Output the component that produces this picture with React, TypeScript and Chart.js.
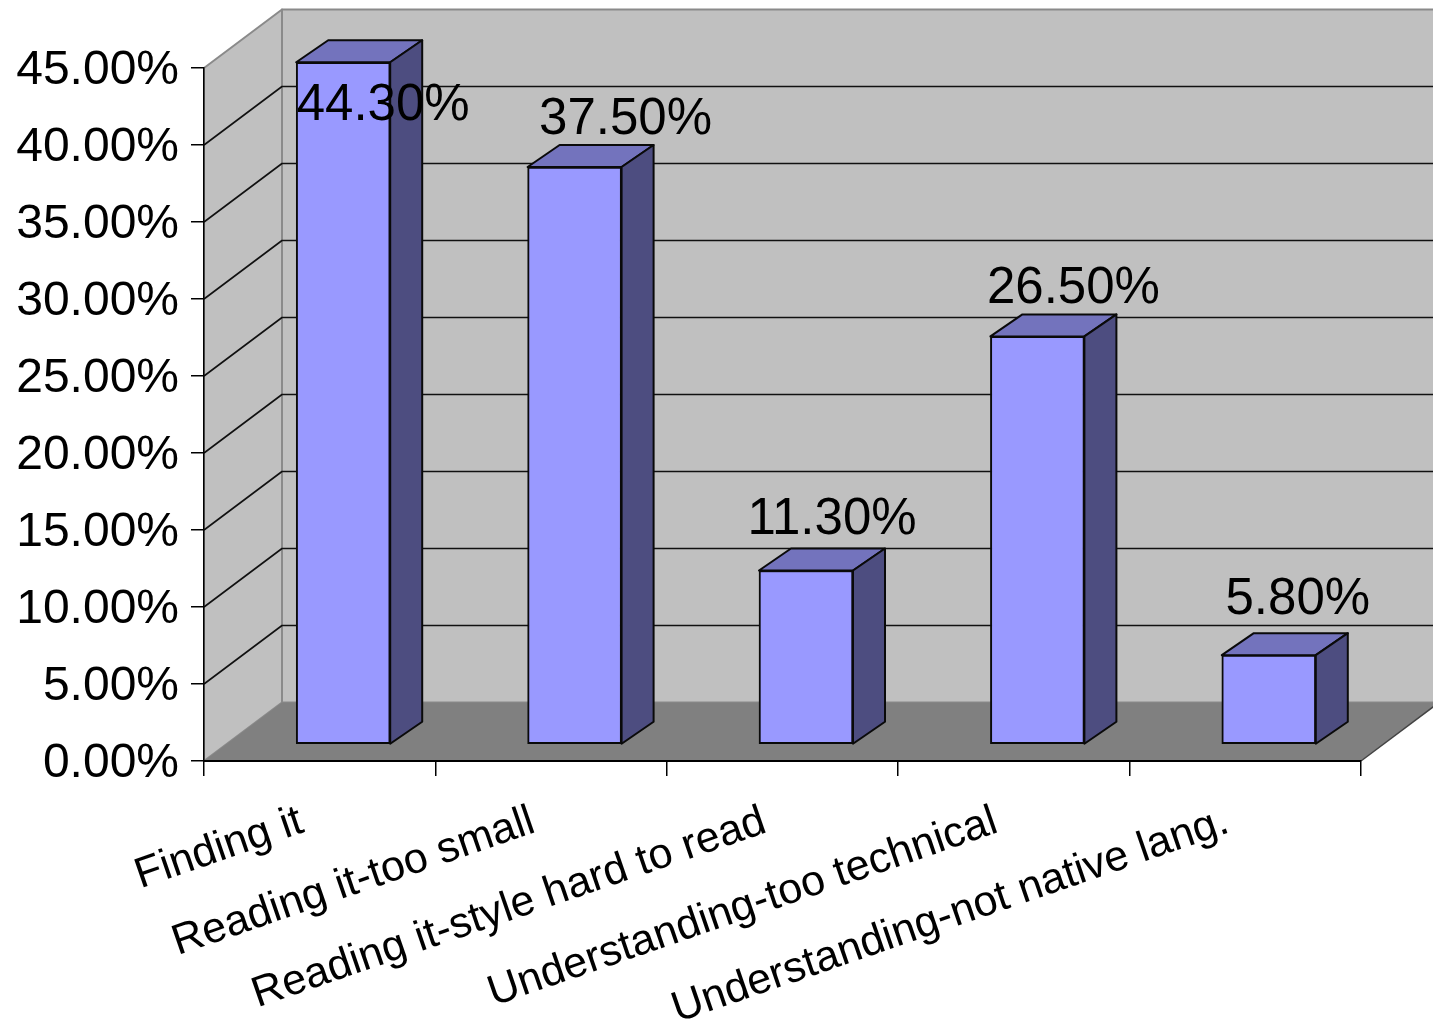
import React, { useEffect, useRef } from "react";
import { Chart, registerables } from "chart.js";

Chart.register(...registerables);

const categories = [
  "Finding it",
  "Reading it-too small",
  "Reading it-style hard to read",
  "Understanding-too technical",
  "Understanding-not native lang.",
];
const percentValues = [44.3, 37.5, 11.3, 26.5, 5.8];

// Horizontal and vertical nudges of each value label, relative to the bar's top centre.
const labelNudgeX = [40, 51, 26, 36, 29];
const labelNudgeY = [44, -47, -51, -47, -55];

const FONT = '"Liberation Sans", Arial, sans-serif';
const WALL = "#c0c0c0";
const FLOOR = "#808080";
const EDGE = "#8a8a8a";
const FRONT = "#9999ff";
const TOP = "#7373bd";
const SIDE = "#4d4d80";
const INK = "#0a0a0a";

// Perspective offsets of the box and of each bar.
const BOX_DX = 78;
const BOX_DY = -58.5;
const BAR_SHIFT_X = 23.5;
const BAR_SHIFT_Y = -16.5;
const BAR_DX = 32;
const BAR_DY = -22;

function poly(ctx: CanvasRenderingContext2D, pts: number[][], fill: string | null, stroke: string | null, lw = 2) {
  ctx.beginPath();
  pts.forEach(([x, y], i) => (i ? ctx.lineTo(x, y) : ctx.moveTo(x, y)));
  ctx.closePath();
  if (fill) {
    ctx.fillStyle = fill;
    ctx.fill();
  }
  if (stroke) {
    ctx.strokeStyle = stroke;
    ctx.lineWidth = lw;
    ctx.lineJoin = "round";
    ctx.stroke();
  }
}

const box3d = {
  id: "box3d",
  beforeDraw(chart: any) {
    const { ctx, chartArea: a, scales } = chart;
    const y = scales.y;
    const far = a.right + BOX_DX;
    ctx.save();
    // Back wall, side wall and floor of the plot box
    poly(ctx, [[a.left + BOX_DX, a.top + BOX_DY], [far, a.top + BOX_DY], [far, a.bottom + BOX_DY], [a.left + BOX_DX, a.bottom + BOX_DY]], WALL, EDGE);
    poly(ctx, [[a.left, a.top], [a.left + BOX_DX, a.top + BOX_DY], [a.left + BOX_DX, a.bottom + BOX_DY], [a.left, a.bottom]], WALL, EDGE);
    poly(ctx, [[a.left, a.bottom], [a.left + BOX_DX, a.bottom + BOX_DY], [far, a.bottom + BOX_DY], [a.right, a.bottom]], FLOOR, null);
    ctx.strokeStyle = "#444";
    ctx.lineWidth = 1.5;
    ctx.beginPath();
    ctx.moveTo(a.right, a.bottom);
    ctx.lineTo(far, a.bottom + BOX_DY);
    ctx.stroke();
    // Gridlines running up the side wall and across the back wall
    ctx.strokeStyle = "#111";
    ctx.lineWidth = 1.6;
    y.ticks.forEach((t: any) => {
      if (t.value <= 0 || t.value >= 45) return;
      const py = y.getPixelForValue(t.value);
      ctx.beginPath();
      ctx.moveTo(a.left, py);
      ctx.lineTo(a.left + BOX_DX, py + BOX_DY);
      ctx.lineTo(far, py + BOX_DY);
      ctx.stroke();
    });
    ctx.restore();
  },
  beforeDatasetDraw(chart: any, args: any) {
    const { ctx } = chart;
    ctx.save();
    ctx.translate(BAR_SHIFT_X, BAR_SHIFT_Y);
    // Top and side faces sit behind the front face the bar element paints
    args.meta.data.forEach((el: any) => {
      const { x, y, base, width } = el.getProps(["x", "y", "base", "width"], true);
      const l = x - width / 2;
      const r = x + width / 2;
      poly(ctx, [[l, y], [l + BAR_DX, y + BAR_DY], [r + BAR_DX, y + BAR_DY], [r, y]], TOP, INK);
      poly(ctx, [[r, y], [r + BAR_DX, y + BAR_DY], [r + BAR_DX, base + BAR_DY], [r, base]], SIDE, INK);
    });
    return true;
  },
  afterDatasetDraw(chart: any) {
    chart.ctx.restore();
  },
  afterDatasetsDraw(chart: any) {
    const { ctx } = chart;
    const meta = chart.getDatasetMeta(0);
    ctx.save();
    ctx.font = `51px ${FONT}`;
    ctx.fillStyle = "#000";
    ctx.textAlign = "center";
    ctx.textBaseline = "middle";
    meta.data.forEach((el: any, i: number) => {
      const { x, y } = el.getProps(["x", "y"], true);
      ctx.fillText(
        `${percentValues[i].toFixed(2)}%`,
        x + BAR_SHIFT_X + labelNudgeX[i],
        y + BAR_SHIFT_Y + labelNudgeY[i]
      );
    });
    ctx.restore();
  },
};

export default function App() {
  const ref = useRef<HTMLCanvasElement>(null);
  useEffect(() => {
    const chart = new Chart(ref.current!, {
      type: "bar",
      data: {
        labels: categories,
        datasets: [
          {
            data: percentValues,
            backgroundColor: FRONT,
            borderColor: INK,
            borderWidth: 2,
            borderSkipped: false,
            barThickness: 94,
          },
        ],
      },
      plugins: [box3d],
      options: {
        responsive: false,
        animation: false,
        events: [],
        layout: { autoPadding: false, padding: { top: 68, right: 72, left: 0, bottom: 0 } },
        plugins: { legend: { display: false }, title: { display: false }, tooltip: { enabled: false } },
        scales: {
          x: {
            afterFit: (s: any) => {
              s.height = 262;
            },
            grid: { drawOnChartArea: false, drawTicks: true, tickLength: 15, color: "#000", lineWidth: 1.5 },
            border: { display: true, color: "#000", width: 2 },
            ticks: {
              autoSkip: false,
              minRotation: 19,
              maxRotation: 19,
              padding: 20,
              labelOffset: -18,
              color: "#000",
              font: { family: FONT, size: 43 },
            },
          },
          y: {
            min: 0,
            max: 45,
            afterFit: (s: any) => {
              s.width = 204;
            },
            grid: { drawOnChartArea: false, drawTicks: true, tickLength: 13, color: "#000", lineWidth: 1.5 },
            border: { display: true, color: "#000", width: 1.5 },
            ticks: {
              stepSize: 5,
              padding: 12,
              labelOffset: 3,
              color: "#000",
              font: { family: FONT, size: 48 },
              callback: (v: any) => `${Number(v).toFixed(2)}%`,
            },
          },
        },
      },
    } as any);
    return () => chart.destroy();
  }, []);
  return (
    <canvas
      ref={ref}
      width={1433}
      height={1023}
      style={{ position: "absolute", left: 0, top: 0, display: "block" }}
    />
  );
}
